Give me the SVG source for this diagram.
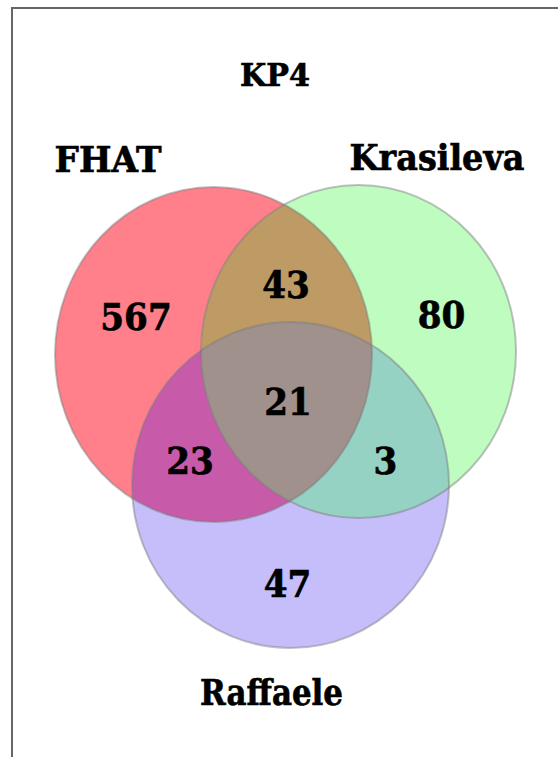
<svg xmlns="http://www.w3.org/2000/svg" width="558" height="757" viewBox="0 0 558 757">
<style>
.lbl{font-family:"DejaVu Serif Condensed","DejaVu Serif","Liberation Serif",serif;font-weight:bold;fill:#000;stroke:#000;stroke-width:0.6;text-anchor:middle}
.num{font-size:38px}
.set{font-size:35px}
.edge{fill:none;stroke:#777;stroke-opacity:0.45;stroke-width:2}
</style>
<defs>
<ellipse id="eR" cx="213.5" cy="354.5" rx="158.5" ry="167.5"/>
<ellipse id="eG" cx="358.5" cy="351.5" rx="157.5" ry="166.5"/>
<ellipse id="eB" cx="290.5" cy="485" rx="158.5" ry="163"/>
<clipPath id="cR"><use href="#eR"/></clipPath>
<clipPath id="cG"><use href="#eG"/></clipPath>
</defs>
<rect x="12" y="8" width="600" height="800" fill="#fff" stroke="#666" stroke-width="2"/>
<text class="lbl" x="275" y="86" font-size="32" textLength="70" lengthAdjust="spacingAndGlyphs">KP4</text>
<g id="fhat">
<use href="#eR" fill="#FF808A"/>
<text class="lbl set" x="108" y="172" textLength="107" lengthAdjust="spacingAndGlyphs">FHAT</text>
</g>
<g id="krasileva">
<use href="#eG" fill="#BEFCC0"/>
<text class="lbl set" x="437" y="170" textLength="175" lengthAdjust="spacingAndGlyphs">Krasileva</text>
</g>
<g id="raffaele">
<use href="#eB" fill="#C5BEFA"/>
<text class="lbl set" x="271.5" y="705" textLength="143" lengthAdjust="spacingAndGlyphs">Raffaele</text>
</g>
<g id="overlaps">
<use href="#eG" fill="#BE9B64" clip-path="url(#cR)"/>
<use href="#eB" fill="#C85AAA" clip-path="url(#cR)"/>
<use href="#eB" fill="#96D2C3" clip-path="url(#cG)"/>
<g clip-path="url(#cG)"><use href="#eB" fill="#A0918C" clip-path="url(#cR)"/></g>
</g>
<g id="outlines">
<use href="#eR" class="edge"/>
<use href="#eG" class="edge"/>
<use href="#eB" class="edge"/>
</g>
<g id="counts">
<text class="lbl num" x="136" y="330">567</text>
<text class="lbl num" x="286" y="298">43</text>
<text class="lbl num" x="441.5" y="328">80</text>
<text class="lbl num" x="288" y="415">21</text>
<text class="lbl num" x="190" y="474">23</text>
<text class="lbl num" x="385.5" y="474">3</text>
<text class="lbl num" x="287.5" y="597">47</text>
</g>
</svg>
